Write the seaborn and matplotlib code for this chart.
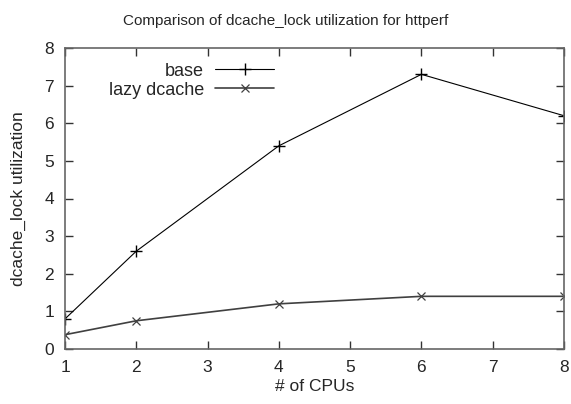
import matplotlib
matplotlib.use("Agg")
import matplotlib.pyplot as plt
import seaborn as sns
import pandas as pd

cpus = [1, 2, 4, 6, 8]
base = [0.8, 2.6, 5.4, 7.3, 6.2]
lazy_dcache = [0.38, 0.75, 1.2, 1.4, 1.4]

sns.set_style("ticks")
plt.rcParams['font.family'] = ['Liberation Sans', 'DejaVu Sans']

df = pd.DataFrame({
    'cpus': cpus * 2,
    'util': base + lazy_dcache,
    'series': ['base'] * len(cpus) + ['lazy dcache'] * len(cpus),
})

fig = plt.figure(figsize=(5.71, 4.04), dpi=100)
ax = fig.add_axes([65 / 571, 1 - 349 / 404, (564 - 65) / 571, (349 - 48) / 404])

sns.lineplot(data=df[df.series == 'base'], x='cpus', y='util', ax=ax,
             color='black', lw=0.8, marker='+', markersize=8, mew=1.0,
             mec='black', label='base')
sns.lineplot(data=df[df.series == 'lazy dcache'], x='cpus', y='util', ax=ax,
             color='#404040', lw=1.2, marker='x', markersize=6, mew=0.9,
             mec='#404040', label='lazy dcache')

ax.set_xlim(1, 8)
ax.set_ylim(0, 8)
ax.set_xticks(range(1, 9))
ax.set_yticks(range(0, 9))
ax.tick_params(direction='in', length=6, width=1, color='#333333', labelsize=12.5,
               top=True, right=True, pad=8)
for s in ax.spines.values():
    s.set_color('#666666')
    s.set_linewidth(1.2)

ax.set_xlabel('# of CPUs', fontsize=12.5, labelpad=3)
ax.set_ylabel('dcache_lock utilization', fontsize=12.5, labelpad=13)
fig.suptitle('Comparison of dcache_lock utilization for httperf', fontsize=11, y=0.965)

leg = ax.legend(loc='upper left', bbox_to_anchor=(0.055, 1.005), frameon=False,
                markerfirst=False, fontsize=13, handlelength=3.3,
                labelspacing=0.1, handletextpad=0.6)
for t in leg.get_texts():
    t.set_ha('right')
leg._legend_box.align = 'right'

fig.savefig('out.png', dpi=100)
